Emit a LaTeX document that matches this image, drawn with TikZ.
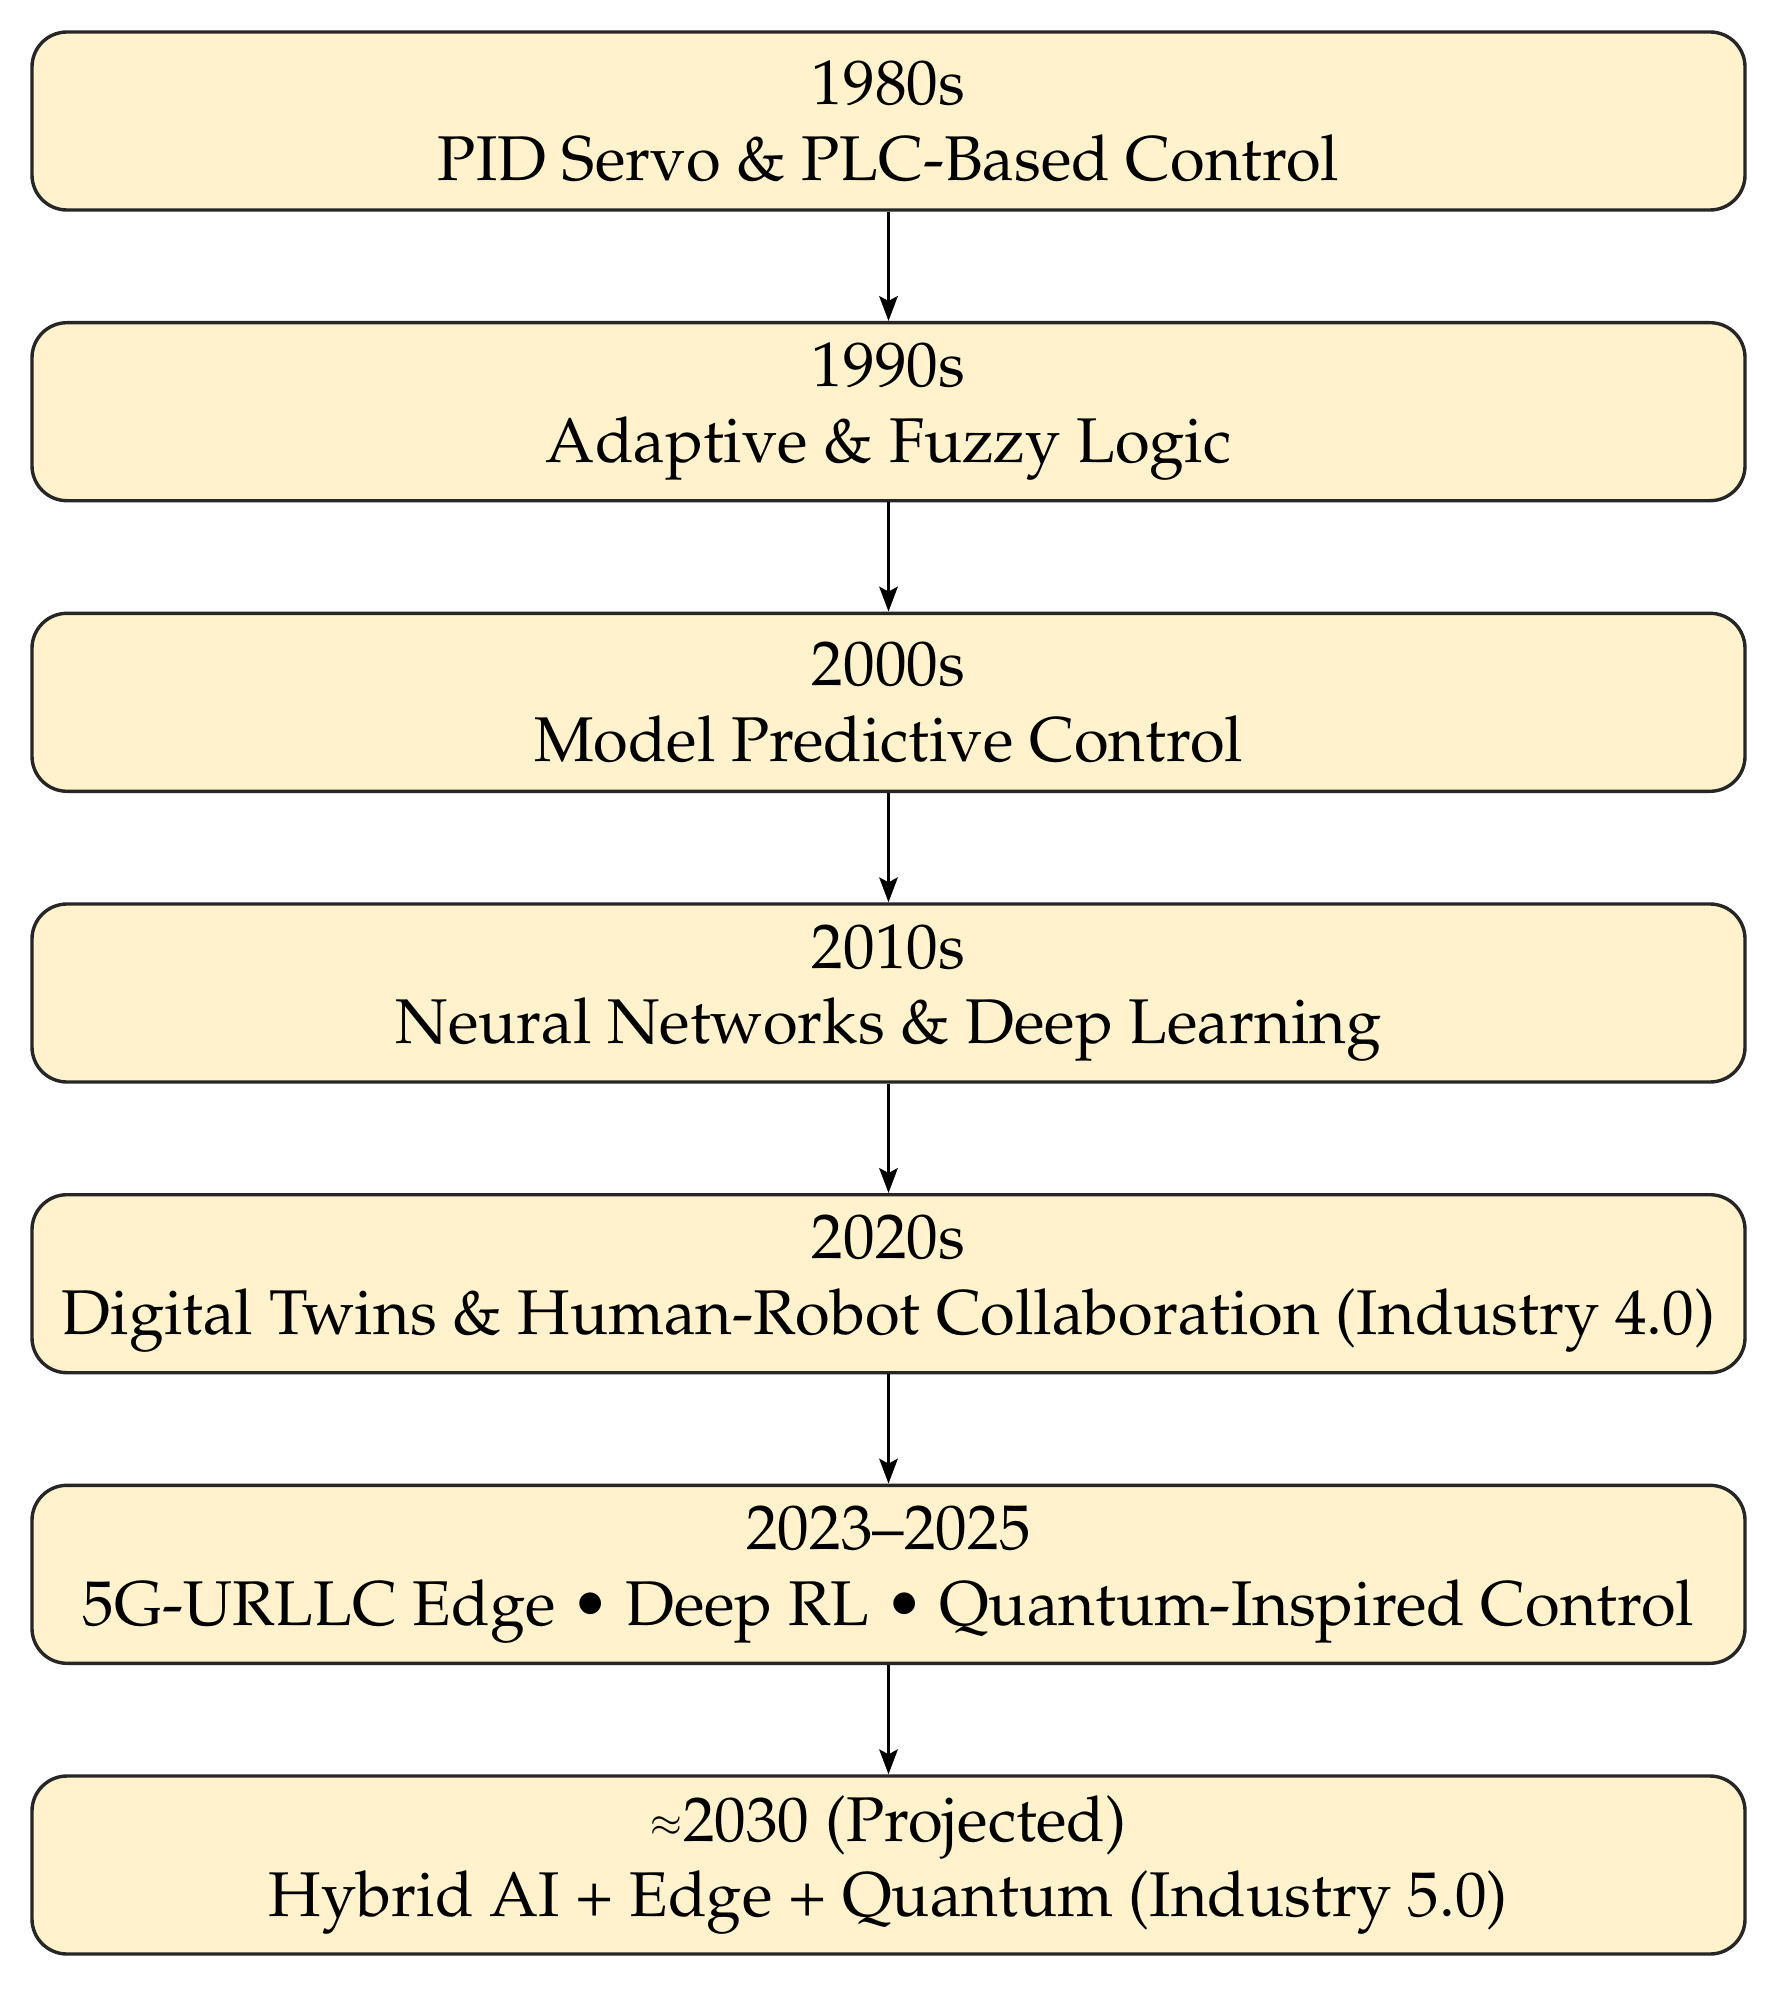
\documentclass[tikz,border=0pt]{standalone}
\usepackage[T1]{fontenc}
\usepackage{mathpazo}
\usepackage{graphicx}
\usetikzlibrary{arrows.meta}
\definecolor{boxfill}{HTML}{FFF2CC}
\definecolor{boxline}{HTML}{262626}
\newcommand{\approxsym}{\raisebox{0.15ex}{\scalebox{0.62}{$\approx$}}}
\tikzset{
  box/.style={draw=boxline, fill=boxfill, line width=0.85pt, rounded corners=8.75pt,
    minimum width=428.25pt, minimum height=44.5pt, inner sep=0pt, align=center,
    font=\fontsize{15.8}{18.9}\selectfont},
  arr/.style={draw=black, line width=0.85pt, -{Stealth[length=6.2pt,width=4.6pt,inset=1.2pt]}}
}
\begin{document}
\begin{tikzpicture}[x=0.25pt,y=-0.25pt]
\useasboundingbox (0,0) rectangle (1779,1989);
\node[box] (b1) at (888.5,121) {1980s\\PID Servo \& PLC-Based Control};
\node[box] (b2) at (888.5,411.7) {1990s\\Adaptive \& Fuzzy Logic};
\node[box] (b3) at (888.5,702.3) {2000s\\Model Predictive Control};
\node[box] (b4) at (888.5,993) {2010s\\Neural Networks \& Deep Learning};
\node[box] (b5) at (888.5,1283.7) {2020s\\Digital Twins \& Human-Robot Collaboration (Industry 4.0)};
\node[box] (b6) at (888.5,1574.3) {2023--2025\\5G-URLLC Edge \textbullet{} Deep RL \textbullet{} Quantum-Inspired Control};
\node[box] (b7) at (888.5,1865) {\approxsym2030 (Projected)\\Hybrid AI + Edge + Quantum (Industry 5.0)};
\draw[arr] (b1) -- (b2);
\draw[arr] (b2) -- (b3);
\draw[arr] (b3) -- (b4);
\draw[arr] (b4) -- (b5);
\draw[arr] (b5) -- (b6);
\draw[arr] (b6) -- (b7);
\end{tikzpicture}
\end{document}
